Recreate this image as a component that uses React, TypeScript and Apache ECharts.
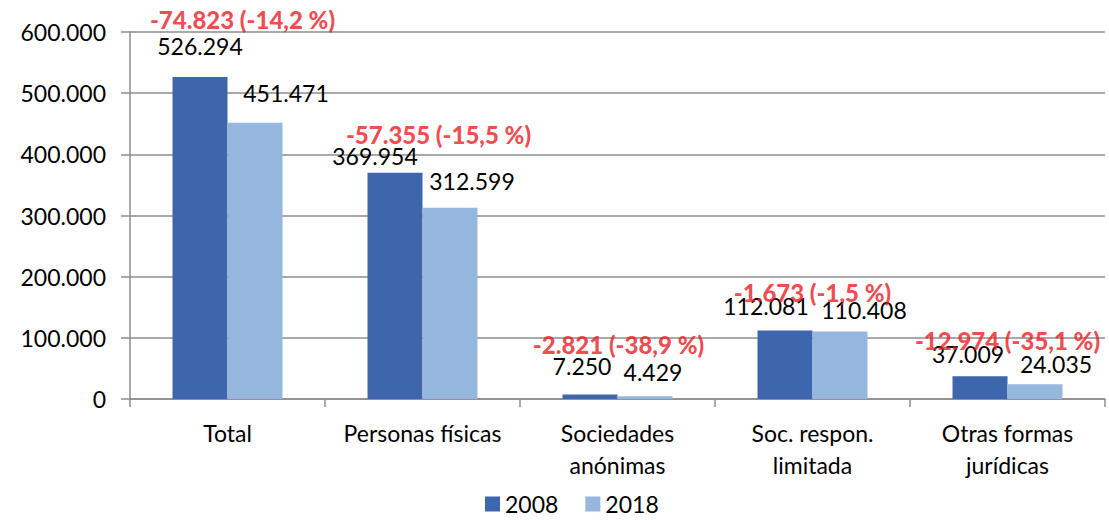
import React, { useEffect, useRef } from "react";
import * as echarts from "echarts";

const categories = ["Total", "Personas físicas", "Sociedades\nanónimas", "Soc. respon.\nlimitada", "Otras formas\njurídicas"];
const values2008 = [526294, 369954, 7250, 112081, 37009];
const values2018 = [451471, 312599, 4429, 110408, 24035];
const seriesNames = ["2008", "2018"];

// label nudges (style only), relative to the library-placed label
const labelNudge2008: [number, number][] = [[0, -15], [-20, 0], [-8, -12], [-19, -8], [-12, -6]];
const labelNudge2018: [number, number][] = [[31, -13], [22, -10], [8, -8], [24, -5], [21, -4]];
const diffNudge: [number, number][] = [[15, -46], [16, -26], [1, -38], [0, -26], [0, -24]];

const fmtThousands = (n: number): string => {
  const s = Math.abs(Math.round(n)).toString();
  const out = s.replace(/\B(?=(\d{3})+(?!\d))/g, ".");
  return (n < 0 ? "-" : "") + out;
};

const FONT = "Lato";

export default function App() {
  const ref = useRef<HTMLDivElement>(null);
  useEffect(() => {
    document.body.style.margin = "0";
    if (!ref.current) return;
    const chart = echarts.init(ref.current, undefined, { renderer: "svg" });
    const diffLabels = values2008.map((v, i) => {
      const d = values2018[i] - v;
      const pct = ((d / v) * 100).toFixed(1).replace(".", ",");
      return `${fmtThousands(d)} (${pct} %)`;
    });
    const valueLabel = {
      show: true,
      position: "top",
      distance: 5,
      fontSize: 23,
      color: "#000",
      fontFamily: FONT,
      formatter: (p: any) => fmtThousands(p.value),
    };
    chart.setOption({
      animation: false,
      textStyle: { fontFamily: FONT },
      grid: { left: 130, right: 4, top: 32, bottom: 121 },
      legend: {
        top: 489,
        left: 483,
        padding: 2,
        itemWidth: 15,
        itemHeight: 15,
        itemGap: 27,
        icon: "rect",
        data: seriesNames,
        textStyle: { fontSize: 23, color: "#000", fontFamily: FONT, lineHeight: 26 },
      },
      xAxis: {
        type: "category",
        data: categories,
        axisLine: { lineStyle: { color: "#8c8c8c", width: 1.5 } },
        axisTick: { show: true, length: 8, lineStyle: { color: "#8c8c8c", width: 1.5 } },
        axisLabel: { fontSize: 23, color: "#000", margin: 18, lineHeight: 32, interval: 0, fontFamily: FONT },
      },
      yAxis: {
        type: "value",
        min: 0,
        max: 600000,
        interval: 100000,
        axisLine: { show: true, lineStyle: { color: "#8c8c8c", width: 1.5 } },
        axisTick: { show: true, length: 9, lineStyle: { color: "#8c8c8c", width: 1.5 } },
        splitLine: { lineStyle: { color: "#8c8c8c", width: 1.5 } },
        axisLabel: {
          fontSize: 23,
          color: "#000",
          margin: 24,
          fontFamily: FONT,
          formatter: (v: number) => fmtThousands(v),
        },
      },
      series: [
        {
          name: seriesNames[0],
          type: "bar",
          data: values2008.map((v, i) => ({ value: v, label: { offset: labelNudge2008[i] } })),
          barGap: "0%",
          barCategoryGap: "43.6%",
          itemStyle: { color: "#3d66ac" },
          label: valueLabel,
        },
        {
          name: seriesNames[1],
          type: "bar",
          data: values2018.map((v, i) => ({ value: v, label: { offset: labelNudge2018[i] } })),
          itemStyle: { color: "#95b7de" },
          label: valueLabel,
        },
        {
          name: "diff",
          type: "scatter",
          data: values2008.map((v, i) => ({ value: v, label: { offset: diffNudge[i] } })),
          symbolSize: 0,
          z: 10,
          silent: true,
          label: {
            show: true,
            position: "top",
            distance: 0,
            fontSize: 24,
            fontWeight: 900,
            color: "#ec1c24",
            fontFamily: FONT,
            formatter: (p: any) => diffLabels[p.dataIndex],
          },
        },
      ],
    });
    return () => chart.dispose();
  }, []);
  return <div ref={ref} style={{ width: 1109, height: 520 }} />;
}
